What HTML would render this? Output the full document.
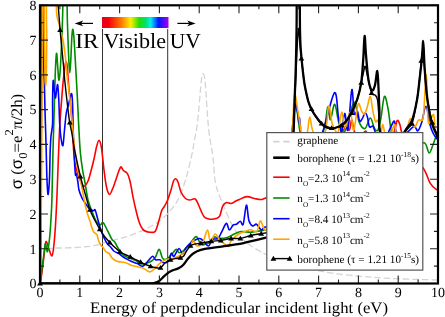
<!DOCTYPE html>
<html><head><meta charset="utf-8"><style>
html,body{margin:0;padding:0;background:#fff;}
body{width:445px;height:317px;overflow:hidden;position:relative;}
svg{position:absolute;left:0;top:0;will-change:transform;}
.t{font-family:"Liberation Serif",serif;fill:#000;text-rendering:geometricPrecision;}
.s{font-family:"Liberation Sans",sans-serif;fill:#000;}
</style></head><body>
<svg width="445" height="317" viewBox="0 0 445 317">
<defs><clipPath id="cp"><rect x="40" y="5.3" width="398" height="278.2"/></clipPath></defs>
<g stroke="#333" stroke-width="1">
<line x1="102.5" y1="29" x2="102.5" y2="283.8"/><line x1="167.7" y1="29" x2="167.7" y2="283.8"/>
</g>
<g clip-path="url(#cp)" fill="none" stroke-linejoin="round" stroke-linecap="round">
<path d="M47.00,250.50 C47.67,250.17 49.50,248.92 51.00,248.50 C52.50,248.08 54.17,248.08 56.00,248.00 C57.83,247.92 59.33,248.05 62.00,248.00 C64.67,247.95 68.50,247.88 72.00,247.70 C75.50,247.52 79.33,247.25 83.00,246.90 C86.67,246.55 89.08,246.68 94.00,245.60 C98.92,244.52 105.67,242.38 112.50,240.40 C119.33,238.42 127.52,236.68 135.00,233.70 C142.48,230.72 151.57,226.28 157.40,222.50 C163.23,218.72 166.33,215.25 170.00,211.00 C173.67,206.75 176.73,202.45 179.40,197.00 C182.07,191.55 184.00,185.00 186.00,178.30 C188.00,171.60 189.98,163.18 191.40,156.80 C192.82,150.42 193.47,145.80 194.50,140.00 C195.53,134.20 196.55,131.00 197.60,122.00 C198.65,113.00 200.07,93.67 200.80,86.00 C201.53,78.33 201.62,78.08 202.00,76.00 C202.38,73.92 202.73,73.50 203.10,73.50 C203.47,73.50 203.80,73.92 204.20,76.00 C204.60,78.08 204.75,77.05 205.50,86.00 C206.25,94.95 207.47,117.90 208.70,129.70 C209.93,141.50 211.75,147.83 212.90,156.80 C214.05,165.77 213.97,175.70 215.60,183.50 C217.23,191.30 219.73,196.30 222.70,203.60 C225.67,210.90 229.65,220.98 233.40,227.30 C237.15,233.62 240.87,237.57 245.20,241.50 C249.53,245.43 255.27,248.57 259.40,250.90 C263.53,253.23 259.90,252.15 270.00,255.50 C280.10,258.85 301.67,267.28 320.00,271.00 C338.33,274.72 360.33,276.30 380.00,277.80 C399.67,279.30 428.33,279.63 438.00,280.00" stroke="#d4d4d4" stroke-width="1.3" stroke-dasharray="5.5 4"/>
<path d="M40.30,283.50 C40.63,281.25 41.62,275.18 42.30,270.00 C42.98,264.82 43.78,257.15 44.40,252.40 C45.02,247.65 45.30,242.23 46.00,241.50 C46.70,240.77 47.62,245.60 48.60,248.00 C49.58,250.40 51.03,256.23 51.90,255.90 C52.77,255.57 53.20,251.15 53.80,246.00 C54.40,240.85 54.97,233.50 55.50,225.00 C56.03,216.50 56.53,205.83 57.00,195.00 C57.47,184.17 57.83,171.67 58.30,160.00 C58.77,148.33 59.18,135.83 59.80,125.00 C60.42,114.17 61.38,102.83 62.00,95.00 C62.62,87.17 63.00,82.83 63.50,78.00 C64.00,73.17 64.58,68.75 65.00,66.00 C65.42,63.25 65.63,61.50 66.00,61.50 C66.37,61.50 66.83,62.92 67.20,66.00 C67.57,69.08 67.80,75.17 68.20,80.00 C68.60,84.83 69.13,90.00 69.60,95.00 C70.07,100.00 70.52,104.17 71.00,110.00 C71.48,115.83 72.07,123.33 72.50,130.00 C72.93,136.67 73.10,144.00 73.60,150.00 C74.10,156.00 74.68,161.67 75.50,166.00 C76.32,170.33 77.50,173.17 78.50,176.00 C79.50,178.83 80.57,181.28 81.50,183.00 C82.43,184.72 83.02,186.63 84.10,186.30 C85.18,185.97 86.85,183.55 88.00,181.00 C89.15,178.45 90.00,174.67 91.00,171.00 C92.00,167.33 93.08,163.00 94.00,159.00 C94.92,155.00 95.67,150.13 96.50,147.00 C97.33,143.87 98.17,140.03 99.00,140.20 C99.83,140.37 100.67,143.03 101.50,148.00 C102.33,152.97 103.17,163.50 104.00,170.00 C104.83,176.50 105.58,182.93 106.50,187.00 C107.42,191.07 108.50,194.07 109.50,194.40 C110.50,194.73 111.57,191.05 112.50,189.00 C113.43,186.95 114.03,185.13 115.10,182.10 C116.17,179.07 117.95,173.32 118.90,170.80 C119.85,168.28 120.25,167.38 120.80,167.00 C121.35,166.62 121.73,167.87 122.20,168.50 C122.67,169.13 122.73,169.95 123.60,170.80 C124.47,171.65 126.30,171.73 127.40,173.60 C128.50,175.47 129.25,178.05 130.20,182.00 C131.15,185.95 132.15,192.63 133.10,197.30 C134.05,201.97 135.00,206.22 135.90,210.00 C136.80,213.78 137.65,217.25 138.50,220.00 C139.35,222.75 140.08,224.75 141.00,226.50 C141.92,228.25 142.57,229.55 144.00,230.50 C145.43,231.45 147.72,232.08 149.60,232.20 C151.48,232.32 153.75,233.13 155.30,231.20 C156.85,229.27 157.83,224.03 158.90,220.60 C159.97,217.17 160.85,212.87 161.70,210.60 C162.55,208.33 163.08,208.60 164.00,207.00 C164.92,205.40 166.03,203.83 167.20,201.00 C168.37,198.17 169.95,193.33 171.00,190.00 C172.05,186.67 172.73,182.87 173.50,181.00 C174.27,179.13 174.85,178.63 175.60,178.80 C176.35,178.97 177.10,179.80 178.00,182.00 C178.90,184.20 179.75,189.25 181.00,192.00 C182.25,194.75 184.00,197.17 185.50,198.50 C187.00,199.83 188.37,199.92 190.00,200.00 C191.63,200.08 193.80,198.00 195.30,199.00 C196.80,200.00 197.88,203.67 199.00,206.00 C200.12,208.33 201.00,211.05 202.00,213.00 C203.00,214.95 203.67,216.67 205.00,217.70 C206.33,218.73 208.17,219.05 210.00,219.20 C211.83,219.35 214.37,219.17 216.00,218.60 C217.63,218.03 218.70,217.85 219.80,215.80 C220.90,213.75 221.50,208.50 222.60,206.30 C223.70,204.10 224.98,203.07 226.40,202.60 C227.82,202.13 229.67,203.68 231.10,203.50 C232.53,203.32 233.62,202.17 235.00,201.50 C236.38,200.83 237.40,200.32 239.40,199.50 C241.40,198.68 244.47,196.77 247.00,196.60 C249.53,196.43 252.23,198.02 254.60,198.50 C256.97,198.98 259.15,199.65 261.20,199.50 C263.25,199.35 260.43,200.02 266.90,197.60 C273.37,195.18 289.48,192.93 300.00,185.00 C310.52,177.07 322.50,159.50 330.00,150.00 C337.50,140.50 341.77,131.33 345.00,128.00 C348.23,124.67 348.27,131.38 349.40,130.00 C350.53,128.62 351.00,119.53 351.80,119.70 C352.60,119.87 352.83,127.95 354.20,131.00 C355.57,134.05 358.08,138.00 360.00,138.00 C361.92,138.00 363.70,130.67 365.70,131.00 C367.70,131.33 367.95,139.17 372.00,140.00 C376.05,140.83 386.27,137.50 390.00,136.00 C393.73,134.50 393.20,133.58 394.40,131.00 C395.60,128.42 396.27,121.50 397.20,120.50 C398.13,119.50 399.20,122.92 400.00,125.00 C400.80,127.08 400.33,128.83 402.00,133.00 C403.67,137.17 406.33,143.93 410.00,150.00 C413.67,156.07 420.62,163.85 424.00,169.40 C427.38,174.95 428.20,179.93 430.30,183.30 C432.40,186.67 434.82,188.48 436.60,189.60 C438.38,190.72 440.27,189.93 441.00,190.00" stroke="#ff0000" stroke-width="1.6"/>
<path d="M40.30,283.50 C40.55,281.20 41.27,274.02 41.80,269.70 C42.33,265.38 42.95,261.80 43.50,257.60 C44.05,253.40 44.63,246.27 45.10,244.50 C45.57,242.73 45.90,245.83 46.30,247.00 C46.70,248.17 46.95,253.00 47.50,251.50 C48.05,250.00 49.05,242.92 49.60,238.00 C50.15,233.08 50.42,228.33 50.80,222.00 C51.18,215.67 51.53,212.00 51.90,200.00 C52.27,188.00 52.62,165.00 53.00,150.00 C53.38,135.00 53.83,122.50 54.20,110.00 C54.57,97.50 54.82,84.45 55.20,75.00 C55.58,65.55 56.07,54.47 56.50,53.30 C56.93,52.13 57.42,63.55 57.80,68.00 C58.18,72.45 58.43,79.17 58.80,80.00 C59.17,80.83 59.58,78.00 60.00,73.00 C60.42,68.00 60.88,58.83 61.30,50.00 C61.72,41.17 62.13,29.67 62.50,20.00 C62.87,10.33 62.83,-3.33 63.50,-8.00 C64.17,-12.67 65.83,-13.50 66.50,-8.00 C67.17,-2.50 67.12,13.67 67.50,25.00 C67.88,36.33 68.42,52.00 68.80,60.00 C69.18,68.00 69.47,73.00 69.80,73.00 C70.13,73.00 70.47,65.83 70.80,60.00 C71.13,54.17 71.48,43.12 71.80,38.00 C72.12,32.88 72.37,29.63 72.70,29.30 C73.03,28.97 73.42,31.72 73.80,36.00 C74.18,40.28 74.57,47.67 75.00,55.00 C75.43,62.33 75.98,72.50 76.40,80.00 C76.82,87.50 77.12,92.50 77.50,100.00 C77.88,107.50 78.23,116.33 78.70,125.00 C79.17,133.67 79.65,144.50 80.30,152.00 C80.95,159.50 81.82,164.90 82.60,170.00 C83.38,175.10 84.10,177.60 85.00,182.60 C85.90,187.60 86.83,195.18 88.00,200.00 C89.17,204.82 90.67,208.00 92.00,211.50 C93.33,215.00 94.67,218.75 96.00,221.00 C97.33,223.25 98.82,224.73 100.00,225.00 C101.18,225.27 101.93,221.83 103.10,222.60 C104.27,223.37 105.55,226.85 107.00,229.60 C108.45,232.35 110.48,237.00 111.80,239.10 C113.12,241.20 113.78,240.60 114.90,242.20 C116.02,243.80 117.12,246.57 118.50,248.70 C119.88,250.83 121.37,253.43 123.20,255.00 C125.03,256.57 127.38,257.18 129.50,258.10 C131.62,259.02 133.92,259.52 135.90,260.50 C137.88,261.48 138.83,263.88 141.40,264.00 C143.97,264.12 148.93,262.37 151.30,261.20 C153.67,260.03 154.30,259.00 155.60,257.00 C156.90,255.00 157.92,248.97 159.10,249.20 C160.28,249.43 161.38,256.77 162.70,258.40 C164.02,260.03 165.47,259.72 167.00,259.00 C168.53,258.28 170.37,255.73 171.90,254.10 C173.43,252.47 175.02,249.43 176.20,249.20 C177.38,248.97 177.87,252.40 179.00,252.70 C180.13,253.00 181.23,252.43 183.00,251.00 C184.77,249.57 187.40,246.50 189.60,244.10 C191.80,241.70 194.32,236.60 196.20,236.60 C198.08,236.60 198.85,243.03 200.90,244.10 C202.95,245.17 206.32,244.18 208.50,243.00 C210.68,241.82 212.30,237.77 214.00,237.00 C215.70,236.23 216.48,238.32 218.70,238.40 C220.92,238.48 224.70,238.23 227.30,237.50 C229.90,236.77 231.98,235.00 234.30,234.00 C236.62,233.00 238.60,231.78 241.20,231.50 C243.80,231.22 247.58,232.30 249.90,232.30 C252.22,232.30 253.08,231.78 255.10,231.50 C257.12,231.22 260.18,230.93 262.00,230.60 C263.82,230.27 263.67,230.27 266.00,229.50 C268.33,228.73 272.67,231.75 276.00,226.00 C279.33,220.25 283.33,210.17 286.00,195.00 C288.67,179.83 290.58,149.17 292.00,135.00 C293.42,120.83 293.83,115.17 294.50,110.00 C295.17,104.83 295.50,103.33 296.00,104.00 C296.50,104.67 297.00,110.50 297.50,114.00 C298.00,117.50 298.42,121.83 299.00,125.00 C299.58,128.17 299.17,130.50 301.00,133.00 C302.83,135.50 306.33,140.17 310.00,140.00 C313.67,139.83 320.03,137.52 323.00,132.00 C325.97,126.48 326.57,108.93 327.80,106.90 C329.03,104.87 329.25,120.23 330.40,119.80 C331.55,119.37 333.27,103.72 334.70,104.30 C336.13,104.88 337.40,118.68 339.00,123.30 C340.60,127.92 342.55,133.43 344.30,132.00 C346.05,130.57 347.77,119.62 349.50,114.70 C351.23,109.78 353.12,101.35 354.70,102.50 C356.28,103.65 357.28,117.27 359.00,121.60 C360.72,125.93 363.12,129.10 365.00,128.50 C366.88,127.90 368.72,118.02 370.30,118.00 C371.88,117.98 373.22,126.40 374.50,128.40 C375.78,130.40 376.93,131.67 378.00,130.00 C379.07,128.33 379.83,124.00 380.90,118.40 C381.97,112.80 383.22,98.05 384.40,96.40 C385.58,94.75 386.93,103.17 388.00,108.50 C389.07,113.83 389.97,124.15 390.80,128.40 C391.63,132.65 389.80,130.40 393.00,134.00 C396.20,137.60 404.83,148.53 410.00,150.00 C415.17,151.47 420.83,142.32 424.00,142.80 C427.17,143.28 427.53,152.48 429.00,152.90 C430.47,153.32 431.53,148.25 432.80,145.30 C434.07,142.35 435.23,138.08 436.60,135.20 C437.97,132.32 440.27,129.20 441.00,128.00" stroke="#008c00" stroke-width="1.6"/>
<path d="M40.20,283.50 C40.30,277.92 40.63,272.25 40.80,250.00 C40.97,227.75 41.07,181.67 41.20,150.00 C41.33,118.33 41.43,86.33 41.60,60.00 C41.77,33.67 41.97,3.33 42.20,-8.00 C42.43,-19.33 42.77,-19.33 43.00,-8.00 C43.23,3.33 43.37,44.50 43.60,60.00 C43.83,75.50 44.17,76.67 44.40,85.00 C44.63,93.33 44.80,102.50 45.00,110.00 C45.20,117.50 45.40,123.33 45.60,130.00 C45.80,136.67 46.00,142.50 46.20,150.00 C46.40,157.50 46.60,168.67 46.80,175.00 C47.00,181.33 47.17,184.80 47.40,188.00 C47.63,191.20 47.85,195.87 48.20,194.20 C48.55,192.53 49.17,185.37 49.50,178.00 C49.83,170.63 49.95,157.00 50.20,150.00 C50.45,143.00 50.60,140.40 51.00,136.00 C51.40,131.60 52.33,129.60 52.60,123.60 C52.87,117.60 52.50,107.18 52.60,100.00 C52.70,92.82 52.88,81.83 53.20,80.50 C53.52,79.17 54.12,89.08 54.50,92.00 C54.88,94.92 55.15,98.33 55.50,98.00 C55.85,97.67 56.23,92.18 56.60,90.00 C56.97,87.82 57.33,83.23 57.70,84.90 C58.07,86.57 58.47,93.55 58.80,100.00 C59.13,106.45 59.33,117.27 59.70,123.60 C60.07,129.93 60.47,134.33 61.00,138.00 C61.53,141.67 62.32,146.93 62.90,145.60 C63.48,144.27 63.93,135.43 64.50,130.00 C65.07,124.57 65.65,117.17 66.30,113.00 C66.95,108.83 67.70,107.83 68.40,105.00 C69.10,102.17 69.93,97.80 70.50,96.00 C71.07,94.20 71.45,92.70 71.80,94.20 C72.15,95.70 72.37,99.03 72.60,105.00 C72.83,110.97 72.97,122.50 73.20,130.00 C73.43,137.50 73.75,144.17 74.00,150.00 C74.25,155.83 74.45,160.83 74.70,165.00 C74.95,169.17 75.23,173.55 75.50,175.00 C75.77,176.45 75.92,172.62 76.30,173.70 C76.68,174.78 77.35,178.78 77.80,181.50 C78.25,184.22 78.30,187.25 79.00,190.00 C79.70,192.75 81.00,195.87 82.00,198.00 C83.00,200.13 83.72,200.93 85.00,202.80 C86.28,204.67 88.25,207.88 89.70,209.20 C91.15,210.52 92.78,210.57 93.70,210.70 C94.62,210.83 94.55,208.68 95.20,210.00 C95.85,211.32 96.68,215.33 97.60,218.60 C98.52,221.87 99.58,226.28 100.70,229.60 C101.82,232.92 103.17,236.12 104.30,238.50 C105.43,240.88 106.45,242.48 107.50,243.90 C108.55,245.32 109.55,245.82 110.60,247.00 C111.65,248.18 112.48,249.93 113.80,251.00 C115.12,252.07 117.18,252.60 118.50,253.40 C119.82,254.20 120.38,254.88 121.70,255.80 C123.02,256.72 124.83,257.98 126.40,258.90 C127.97,259.82 129.27,260.52 131.10,261.30 C132.93,262.08 135.45,262.78 137.40,263.60 C139.35,264.42 140.95,266.72 142.80,266.20 C144.65,265.68 146.85,262.15 148.50,260.50 C150.15,258.85 151.52,256.42 152.70,256.30 C153.88,256.18 154.42,259.22 155.60,259.80 C156.78,260.38 158.50,259.32 159.80,259.80 C161.10,260.28 161.97,262.47 163.40,262.70 C164.83,262.93 167.10,262.75 168.40,261.20 C169.70,259.65 170.27,254.22 171.20,253.40 C172.13,252.58 172.70,257.12 174.00,256.30 C175.30,255.48 177.57,248.87 179.00,248.50 C180.43,248.13 181.47,254.20 182.60,254.10 C183.73,254.00 184.32,249.87 185.80,247.90 C187.28,245.93 189.30,243.87 191.50,242.30 C193.70,240.73 197.12,238.82 199.00,238.50 C200.88,238.18 201.22,239.15 202.80,240.40 C204.38,241.65 206.93,246.17 208.50,246.00 C210.07,245.83 210.63,240.65 212.20,239.40 C213.77,238.15 216.32,239.75 217.90,238.50 C219.48,237.25 220.28,234.42 221.70,231.90 C223.12,229.38 225.13,223.72 226.40,223.40 C227.67,223.08 228.20,229.70 229.30,230.00 C230.40,230.30 231.80,226.17 233.00,225.20 C234.20,224.23 235.28,224.85 236.50,224.20 C237.72,223.55 239.18,221.30 240.30,221.30 C241.42,221.30 242.18,226.88 243.20,224.20 C244.22,221.52 245.45,205.83 246.40,205.20 C247.35,204.57 247.85,216.93 248.90,220.40 C249.95,223.87 251.43,225.37 252.70,226.00 C253.97,226.63 255.08,223.57 256.50,224.20 C257.92,224.83 259.78,229.33 261.20,229.80 C262.62,230.27 262.53,227.80 265.00,227.00 C267.47,226.20 272.50,231.17 276.00,225.00 C279.50,218.83 283.33,205.50 286.00,190.00 C288.67,174.50 290.67,145.00 292.00,132.00 C293.33,119.00 293.42,116.63 294.00,112.00 C294.58,107.37 295.00,104.53 295.50,104.20 C296.00,103.87 296.57,108.27 297.00,110.00 C297.43,111.73 297.80,112.60 298.10,114.60 C298.40,116.60 298.57,121.43 298.80,122.00 C299.03,122.57 299.22,117.00 299.50,118.00 C299.78,119.00 300.17,125.50 300.50,128.00 C300.83,130.50 299.08,131.00 301.50,133.00 C303.92,135.00 311.48,140.17 315.00,140.00 C318.52,139.83 319.37,139.85 322.60,132.00 C325.83,124.15 331.77,95.48 334.40,92.90 C337.03,90.32 337.22,109.98 338.40,116.50 C339.58,123.02 340.45,132.52 341.50,132.00 C342.55,131.48 343.63,113.73 344.70,113.40 C345.77,113.07 346.72,133.95 347.90,130.00 C349.08,126.05 350.75,92.47 351.80,89.70 C352.85,86.93 353.27,109.80 354.20,113.40 C355.13,117.00 356.50,110.00 357.40,111.30 C358.30,112.60 358.77,120.02 359.60,121.20 C360.43,122.38 361.47,119.82 362.40,118.40 C363.33,116.98 364.37,112.93 365.20,112.70 C366.03,112.47 366.68,114.63 367.40,117.00 C368.12,119.37 368.57,125.37 369.50,126.90 C370.43,128.43 371.92,125.18 373.00,126.20 C374.08,127.22 374.00,131.03 376.00,133.00 C378.00,134.97 382.65,138.77 385.00,138.00 C387.35,137.23 388.53,131.20 390.10,128.40 C391.67,125.60 393.33,120.60 394.40,121.20 C395.47,121.80 394.73,129.87 396.50,132.00 C398.27,134.13 402.08,134.92 405.00,134.00 C407.92,133.08 411.87,127.02 414.00,126.50 C416.13,125.98 416.53,131.53 417.80,130.90 C419.07,130.27 420.23,126.80 421.60,122.70 C422.97,118.60 424.63,106.08 426.00,106.30 C427.37,106.52 428.55,119.38 429.80,124.00 C431.05,128.62 432.13,131.33 433.50,134.00 C434.87,136.67 437.25,139.00 438.00,140.00" stroke="#0000ff" stroke-width="1.6"/>
<path d="M40.20,283.50 C40.27,280.42 40.40,279.75 40.60,265.00 C40.80,250.25 41.17,222.50 41.40,195.00 C41.63,167.50 41.83,129.17 42.00,100.00 C42.17,70.83 42.27,38.00 42.40,20.00 C42.53,2.00 42.53,-3.33 42.80,-8.00 C43.07,-12.67 43.72,-16.00 44.00,-8.00 C44.28,0.00 44.33,25.67 44.50,40.00 C44.67,54.33 44.82,70.33 45.00,78.00 C45.18,85.67 45.38,86.00 45.60,86.00 C45.82,86.00 46.12,85.67 46.30,78.00 C46.48,70.33 46.58,54.33 46.70,40.00 C46.82,25.67 45.62,0.00 47.00,-8.00 C48.38,-16.00 53.47,-10.17 55.00,-8.00 C56.53,-5.83 55.87,0.95 56.20,5.00 C56.53,9.05 56.48,12.97 57.00,16.30 C57.52,19.63 58.63,22.22 59.30,25.00 C59.97,27.78 60.38,30.50 61.00,33.00 C61.62,35.50 62.25,35.83 63.00,40.00 C63.75,44.17 64.83,52.00 65.50,58.00 C66.17,64.00 66.42,70.42 67.00,76.00 C67.58,81.58 68.33,85.83 69.00,91.50 C69.67,97.17 70.42,104.42 71.00,110.00 C71.58,115.58 71.95,119.17 72.50,125.00 C73.05,130.83 73.63,138.83 74.30,145.00 C74.97,151.17 75.72,157.00 76.50,162.00 C77.28,167.00 78.18,171.17 79.00,175.00 C79.82,178.83 80.65,181.50 81.40,185.00 C82.15,188.50 82.90,192.77 83.50,196.00 C84.10,199.23 84.50,202.07 85.00,204.40 C85.50,206.73 86.00,208.15 86.50,210.00 C87.00,211.85 87.33,213.40 88.00,215.50 C88.67,217.60 89.92,220.77 90.50,222.60 C91.08,224.43 90.97,224.93 91.50,226.50 C92.03,228.07 92.82,230.68 93.70,232.00 C94.58,233.32 96.02,233.07 96.80,234.40 C97.58,235.73 97.75,238.23 98.40,240.00 C99.05,241.77 99.98,243.83 100.70,245.00 C101.42,246.17 101.83,245.87 102.70,247.00 C103.57,248.13 104.85,250.73 105.90,251.80 C106.95,252.87 107.95,252.35 109.00,253.40 C110.05,254.45 110.88,256.78 112.20,258.10 C113.52,259.42 115.32,260.65 116.90,261.30 C118.48,261.95 120.12,261.73 121.70,262.00 C123.28,262.27 124.83,262.37 126.40,262.90 C127.97,263.43 129.27,264.55 131.10,265.20 C132.93,265.85 135.30,266.27 137.40,266.80 C139.50,267.33 141.62,267.55 143.70,268.40 C145.78,269.25 148.03,271.90 149.90,271.90 C151.77,271.90 153.25,269.82 154.90,268.40 C156.55,266.98 158.03,264.83 159.80,263.40 C161.57,261.97 163.37,260.63 165.50,259.80 C167.63,258.97 170.23,259.10 172.60,258.40 C174.97,257.70 177.47,256.90 179.70,255.60 C181.93,254.30 184.28,252.03 186.00,250.60 C187.72,249.17 188.78,248.70 190.00,247.00 C191.22,245.30 192.12,240.57 193.30,240.40 C194.48,240.23 195.52,245.68 197.10,246.00 C198.68,246.32 201.07,244.97 202.80,242.30 C204.53,239.63 206.23,230.17 207.50,230.00 C208.77,229.83 209.12,240.63 210.40,241.30 C211.68,241.97 213.68,234.22 215.20,234.00 C216.72,233.78 218.05,238.42 219.50,240.00 C220.95,241.58 222.45,242.47 223.90,243.50 C225.35,244.53 226.90,246.78 228.20,246.20 C229.50,245.62 229.97,242.03 231.70,240.00 C233.43,237.97 236.43,235.42 238.60,234.00 C240.77,232.58 242.67,232.22 244.70,231.50 C246.73,230.78 248.78,229.70 250.80,229.70 C252.82,229.70 255.22,232.95 256.80,231.50 C258.38,230.05 259.15,221.58 260.30,221.00 C261.45,220.42 262.58,226.33 263.70,228.00 C264.82,229.67 264.95,230.33 267.00,231.00 C269.05,231.67 273.17,238.83 276.00,232.00 C278.83,225.17 281.33,206.57 284.00,190.00 C286.67,173.43 290.42,146.27 292.00,132.60 C293.58,118.93 293.05,114.47 293.50,108.00 C293.95,101.53 294.22,95.00 294.70,93.80 C295.18,92.60 295.85,97.77 296.40,100.80 C296.95,103.83 297.43,108.30 298.00,112.00 C298.57,115.70 299.20,119.57 299.80,123.00 C300.40,126.43 300.38,131.00 301.60,132.60 C302.82,134.20 305.75,135.20 307.10,132.60 C308.45,130.00 308.60,117.00 309.70,117.00 C310.80,117.00 311.15,130.10 313.70,132.60 C316.25,135.10 322.50,136.43 325.00,132.00 C327.50,127.57 327.52,107.45 328.70,106.00 C329.88,104.55 331.05,119.30 332.10,123.30 C333.15,127.30 333.98,128.55 335.00,130.00 C336.02,131.45 337.08,134.98 338.20,132.00 C339.32,129.02 340.55,112.77 341.70,112.10 C342.85,111.43 343.67,128.02 345.10,128.00 C346.53,127.98 348.85,111.67 350.30,112.00 C351.75,112.33 352.50,131.28 353.80,130.00 C355.10,128.72 356.80,107.43 358.10,104.30 C359.40,101.17 360.58,109.58 361.60,111.20 C362.62,112.82 363.30,114.53 364.20,114.00 C365.10,113.47 365.98,110.92 367.00,108.00 C368.02,105.08 369.32,95.97 370.30,96.50 C371.28,97.03 372.03,107.02 372.90,111.20 C373.77,115.38 374.65,120.05 375.50,121.60 C376.35,123.15 377.10,118.77 378.00,120.50 C378.90,122.23 380.10,131.33 380.90,132.00 C381.70,132.67 382.08,124.17 382.80,124.50 C383.52,124.83 384.00,132.08 385.20,134.00 C386.40,135.92 388.70,137.00 390.00,136.00 C391.30,135.00 392.17,129.87 393.00,128.00 C393.83,126.13 394.37,123.80 395.00,124.80 C395.63,125.80 395.13,132.47 396.80,134.00 C398.47,135.53 402.77,136.52 405.00,134.00 C407.23,131.48 408.60,120.05 410.20,118.90 C411.80,117.75 413.23,126.88 414.60,127.10 C415.97,127.32 417.03,121.57 418.40,120.20 C419.77,118.83 421.78,122.27 422.80,118.90 C423.82,115.53 424.00,106.98 424.50,100.00 C425.00,93.02 425.47,80.83 425.80,77.00 C426.13,73.17 426.25,74.00 426.50,77.00 C426.75,80.00 426.97,87.28 427.30,95.00 C427.63,102.72 427.47,120.05 428.50,123.30 C429.53,126.55 432.35,113.13 433.50,114.50 C434.65,115.87 434.65,128.08 435.40,131.50 C436.15,134.92 437.57,134.42 438.00,135.00" stroke="#ffa500" stroke-width="1.6"/>
<path d="M40.00,283.40 C50.00,283.40 82.00,283.42 100.00,283.40 C118.00,283.38 138.92,283.40 148.00,283.30 C157.08,283.20 152.63,283.18 154.50,282.80 C156.37,282.42 157.62,282.08 159.20,281.00 C160.78,279.92 162.42,277.73 164.00,276.30 C165.58,274.87 167.13,273.45 168.70,272.40 C170.27,271.35 171.82,270.67 173.40,270.00 C174.98,269.33 176.62,269.18 178.20,268.40 C179.78,267.62 181.32,266.87 182.90,265.30 C184.48,263.73 186.12,260.85 187.70,259.00 C189.28,257.15 190.83,255.50 192.40,254.20 C193.97,252.90 195.00,252.08 197.10,251.20 C199.20,250.32 201.22,249.63 205.00,248.90 C208.78,248.17 214.30,247.60 219.80,246.80 C225.30,246.00 233.47,244.87 238.00,244.10 C242.53,243.33 242.18,243.32 247.00,242.20 C251.82,241.08 262.07,238.60 266.90,237.40 C271.73,236.20 272.82,239.57 276.00,235.00 C279.18,230.43 283.50,222.50 286.00,210.00 C288.50,197.50 289.75,172.90 291.00,160.00 C292.25,147.10 292.87,143.43 293.50,132.60 C294.13,121.77 294.43,105.43 294.80,95.00 C295.17,84.57 295.45,78.33 295.70,70.00 C295.95,61.67 296.15,52.50 296.30,45.00 C296.45,37.50 296.53,31.67 296.60,25.00 C296.67,18.33 296.67,10.83 296.70,5.00 C296.73,-0.83 296.32,-7.50 296.80,-10.00 C297.28,-12.50 299.10,-12.50 299.60,-10.00 C300.10,-7.50 299.73,-1.83 299.80,5.00 C299.87,11.83 299.87,24.00 300.00,31.00 C300.13,38.00 300.37,42.67 300.60,47.00 C300.83,51.33 301.12,53.83 301.40,57.00 C301.68,60.17 301.98,63.00 302.30,66.00 C302.62,69.00 302.93,72.00 303.30,75.00 C303.67,78.00 303.97,80.83 304.50,84.00 C305.03,87.17 305.83,91.00 306.50,94.00 C307.17,97.00 307.62,99.33 308.50,102.00 C309.38,104.67 310.13,107.00 311.80,110.00 C313.47,113.00 316.30,117.20 318.50,120.00 C320.70,122.80 322.75,125.40 325.00,126.80 C327.25,128.20 329.77,128.40 332.00,128.40 C334.23,128.40 336.28,127.72 338.40,126.80 C340.52,125.88 342.60,125.13 344.70,122.90 C346.80,120.67 348.90,117.35 351.00,113.40 C353.10,109.45 355.60,104.33 357.30,99.20 C359.00,94.07 360.22,89.13 361.20,82.60 C362.18,76.07 362.63,67.77 363.20,60.00 C363.77,52.23 364.13,36.83 364.60,36.00 C365.07,35.17 365.35,47.67 366.00,55.00 C366.65,62.33 367.50,74.08 368.50,80.00 C369.50,85.92 370.92,89.67 372.00,90.50 C373.08,91.33 374.12,88.25 375.00,85.00 C375.88,81.75 376.72,70.50 377.30,71.00 C377.88,71.50 378.15,81.33 378.50,88.00 C378.85,94.67 379.13,103.62 379.40,111.00 C379.67,118.38 378.00,124.13 380.10,132.30 C382.20,140.47 387.97,160.00 392.00,160.00 C396.03,160.00 400.97,138.88 404.30,132.30 C407.63,125.72 409.88,125.88 412.00,120.50 C414.12,115.12 415.75,106.75 417.00,100.00 C418.25,93.25 418.75,86.33 419.50,80.00 C420.25,73.67 420.98,67.33 421.50,62.00 C422.02,56.67 422.33,51.53 422.60,48.00 C422.87,44.47 422.92,40.80 423.10,40.80 C423.28,40.80 423.50,44.47 423.70,48.00 C423.90,51.53 424.00,56.67 424.30,62.00 C424.60,67.33 424.97,73.67 425.50,80.00 C426.03,86.33 426.47,92.88 427.50,100.00 C428.53,107.12 429.95,116.40 431.70,122.70 C433.45,129.00 436.28,133.25 438.00,137.80 C439.72,142.35 441.33,147.97 442.00,150.00" stroke="#000" stroke-width="2.3"/>
<path d="M40.00,283.40 C40.00,234.83 37.25,40.57 40.00,-8.00 C42.75,-56.57 53.47,-10.28 56.50,-8.00 C59.53,-5.72 57.60,-0.63 58.20,5.70 C58.80,12.03 59.47,22.62 60.10,30.00 C60.73,37.38 61.37,43.33 62.00,50.00 C62.63,56.67 63.45,65.00 63.90,70.00 C64.35,75.00 64.18,74.83 64.70,80.00 C65.22,85.17 66.18,94.00 67.00,101.00 C67.82,108.00 68.80,116.67 69.60,122.00 C70.40,127.33 70.90,128.00 71.80,133.00 C72.70,138.00 73.57,144.75 75.00,152.00 C76.43,159.25 78.65,169.33 80.40,176.50 C82.15,183.67 83.93,189.50 85.50,195.00 C87.07,200.50 88.22,205.25 89.80,209.50 C91.38,213.75 93.33,217.22 95.00,220.50 C96.67,223.78 98.22,226.53 99.80,229.20 C101.38,231.87 102.83,234.30 104.50,236.50 C106.17,238.70 108.05,240.57 109.80,242.40 C111.55,244.23 113.30,245.93 115.00,247.50 C116.70,249.07 118.33,250.63 120.00,251.80 C121.67,252.97 123.28,253.67 125.00,254.50 C126.72,255.33 128.63,256.00 130.30,256.80 C131.97,257.60 133.28,258.43 135.00,259.30 C136.72,260.17 138.85,261.13 140.60,262.00 C142.35,262.87 143.83,263.78 145.50,264.50 C147.17,265.22 149.02,265.80 150.60,266.30 C152.18,266.80 153.35,267.25 155.00,267.50 C156.65,267.75 158.83,268.55 160.50,267.80 C162.17,267.05 163.33,264.33 165.00,263.00 C166.67,261.67 168.83,260.53 170.50,259.80 C172.17,259.07 173.35,258.97 175.00,258.60 C176.65,258.23 178.95,258.03 180.40,257.60 C181.85,257.17 182.68,257.10 183.70,256.00 C184.72,254.90 185.37,252.70 186.50,251.00 C187.63,249.30 189.08,246.97 190.50,245.80 C191.92,244.63 193.27,244.43 195.00,244.00 C196.73,243.57 198.18,243.65 200.90,243.20 C203.62,242.75 207.98,241.77 211.30,241.30 C214.62,240.83 217.50,240.87 220.80,240.40 C224.10,239.93 227.85,238.83 231.10,238.50 C234.35,238.17 237.02,238.90 240.30,238.40 C243.58,237.90 247.32,236.30 250.80,235.50 C254.28,234.70 258.52,234.07 261.20,233.60 C263.88,233.13 264.77,233.13 266.90,232.70 C269.03,232.27 270.82,238.12 274.00,231.00 C277.18,223.88 283.17,205.17 286.00,190.00 C288.83,174.83 289.75,149.57 291.00,140.00 C292.25,130.43 292.83,140.10 293.50,132.60 C294.17,125.10 294.55,105.43 295.00,95.00 C295.45,84.57 295.87,77.50 296.20,70.00 C296.53,62.50 296.73,55.67 297.00,50.00 C297.27,44.33 297.57,39.58 297.80,36.00 C298.03,32.42 298.18,29.00 298.40,28.50 C298.62,28.00 298.83,30.25 299.10,33.00 C299.37,35.75 299.62,40.83 300.00,45.00 C300.38,49.17 301.02,54.50 301.40,58.00 C301.78,61.50 301.98,63.17 302.30,66.00 C302.62,68.83 302.93,72.00 303.30,75.00 C303.67,78.00 303.97,80.83 304.50,84.00 C305.03,87.17 305.83,91.00 306.50,94.00 C307.17,97.00 307.67,99.33 308.50,102.00 C309.33,104.67 309.83,106.92 311.50,110.00 C313.17,113.08 316.82,118.25 318.50,120.50 C320.18,122.75 320.13,122.45 321.60,123.50 C323.07,124.55 325.57,126.05 327.30,126.80 C329.03,127.55 330.15,128.00 332.00,128.00 C333.85,128.00 336.28,127.65 338.40,126.80 C340.52,125.95 342.60,125.07 344.70,122.90 C346.80,120.73 348.90,117.75 351.00,113.80 C353.10,109.85 355.58,104.38 357.30,99.20 C359.02,94.02 360.18,87.57 361.30,82.70 C362.42,77.83 363.33,72.70 364.00,70.00 C364.67,67.30 364.72,65.50 365.30,66.50 C365.88,67.50 366.45,71.58 367.50,76.00 C368.55,80.42 370.35,89.83 371.60,93.00 C372.85,96.17 374.02,93.83 375.00,95.00 C375.98,96.17 376.80,95.83 377.50,100.00 C378.20,104.17 378.70,114.62 379.20,120.00 C379.70,125.38 378.37,124.80 380.50,132.30 C382.63,139.80 388.08,164.72 392.00,165.00 C395.92,165.28 400.67,140.90 404.00,134.00 C407.33,127.10 410.00,128.43 412.00,123.60 C414.00,118.77 414.83,111.43 416.00,105.00 C417.17,98.57 418.12,92.33 419.00,85.00 C419.88,77.67 420.75,66.33 421.30,61.00 C421.85,55.67 421.95,54.33 422.30,53.00 C422.65,51.67 423.07,50.83 423.40,53.00 C423.73,55.17 423.95,61.17 424.30,66.00 C424.65,70.83 424.97,76.33 425.50,82.00 C426.03,87.67 426.38,93.25 427.50,100.00 C428.62,106.75 430.78,117.17 432.20,122.50 C433.62,127.83 434.70,129.42 436.00,132.00 C437.30,134.58 439.33,137.00 440.00,138.00" stroke="#000" stroke-width="1.4"/>
</g>
<path d="M40.00,283.5 v-8 M40.00,5.3 v8 M59.90,283.5 v-4 M59.90,5.3 v4 M79.80,283.5 v-8 M79.80,5.3 v8 M99.70,283.5 v-4 M99.70,5.3 v4 M119.60,283.5 v-8 M119.60,5.3 v8 M139.50,283.5 v-4 M139.50,5.3 v4 M159.40,283.5 v-8 M159.40,5.3 v8 M179.30,283.5 v-4 M179.30,5.3 v4 M199.20,283.5 v-8 M199.20,5.3 v8 M219.10,283.5 v-4 M219.10,5.3 v4 M239.00,283.5 v-8 M239.00,5.3 v8 M258.90,283.5 v-4 M258.90,5.3 v4 M278.80,283.5 v-8 M278.80,5.3 v8 M298.70,283.5 v-4 M298.70,5.3 v4 M318.60,283.5 v-8 M318.60,5.3 v8 M338.50,283.5 v-4 M338.50,5.3 v4 M358.40,283.5 v-8 M358.40,5.3 v8 M378.30,283.5 v-4 M378.30,5.3 v4 M398.20,283.5 v-8 M398.20,5.3 v8 M418.10,283.5 v-4 M418.10,5.3 v4 M438.00,283.5 v-8 M438.00,5.3 v8 M40.0,283.50 h8 M438.0,283.50 h-8 M40.0,266.11 h4 M438.0,266.11 h-4 M40.0,248.72 h8 M438.0,248.72 h-8 M40.0,231.34 h4 M438.0,231.34 h-4 M40.0,213.95 h8 M438.0,213.95 h-8 M40.0,196.56 h4 M438.0,196.56 h-4 M40.0,179.18 h8 M438.0,179.18 h-8 M40.0,161.79 h4 M438.0,161.79 h-4 M40.0,144.40 h8 M438.0,144.40 h-8 M40.0,127.01 h4 M438.0,127.01 h-4 M40.0,109.62 h8 M438.0,109.62 h-8 M40.0,92.24 h4 M438.0,92.24 h-4 M40.0,74.85 h8 M438.0,74.85 h-8 M40.0,57.46 h4 M438.0,57.46 h-4 M40.0,40.08 h8 M438.0,40.08 h-8 M40.0,22.69 h4 M438.0,22.69 h-4 M40.0,5.30 h8 M438.0,5.30 h-8" stroke="#222" stroke-width="1.1" fill="none"/>
<rect x="40.0" y="5.3" width="398.0" height="278.2" fill="none" stroke="#000" stroke-width="2.2"/>
<path d="M40.00,280.64 L42.90,285.43 L37.10,285.43 Z M60.10,27.25 L63.00,32.03 L57.20,32.03 Z M69.80,119.75 L72.70,124.53 L66.90,124.53 Z M80.40,173.75 L83.30,178.53 L77.50,178.53 Z M90.00,207.05 L92.90,211.83 L87.10,211.83 Z M99.80,226.44 L102.70,231.23 L96.90,231.23 Z M109.80,239.65 L112.70,244.43 L106.90,244.43 Z M120.00,249.05 L122.90,253.83 L117.10,253.83 Z M130.30,254.05 L133.20,258.83 L127.40,258.83 Z M140.60,259.25 L143.50,264.03 L137.70,264.03 Z M150.60,263.55 L153.50,268.33 L147.70,268.33 Z M160.50,265.05 L163.40,269.83 L157.60,269.83 Z M170.50,257.05 L173.40,261.83 L167.60,261.83 Z M180.40,254.85 L183.30,259.63 L177.50,259.63 Z M190.50,243.05 L193.40,247.83 L187.60,247.83 Z M200.90,240.44 L203.80,245.23 L198.00,245.23 Z M211.30,238.55 L214.20,243.33 L208.40,243.33 Z M220.80,237.65 L223.70,242.43 L217.90,242.43 Z M231.10,235.75 L234.00,240.53 L228.20,240.53 Z M240.30,235.65 L243.20,240.43 L237.40,240.43 Z M250.80,232.75 L253.70,237.53 L247.90,237.53 Z M261.20,230.84 L264.10,235.63 L258.30,235.63 Z M301.40,55.74 L304.30,60.53 L298.50,60.53 Z M311.50,106.25 L314.40,111.03 L308.60,111.03 Z M321.60,120.75 L324.50,125.53 L318.70,125.53 Z M331.60,125.25 L334.50,130.03 L328.70,130.03 Z M341.70,122.75 L344.60,127.53 L338.80,127.53 Z M351.70,110.25 L354.60,115.03 L348.80,115.03 Z M361.30,79.95 L364.20,84.73 L358.40,84.73 Z M371.60,90.25 L374.50,95.03 L368.70,95.03 Z M412.00,120.84 L414.90,125.63 L409.10,125.63 Z M421.30,57.95 L424.20,62.73 L418.40,62.73 Z M432.20,119.75 L435.10,124.53 L429.30,124.53 Z" fill="#000" stroke="none"/>
<rect x="266.8" y="132.6" width="156" height="137.5" fill="#fff" stroke="#555" stroke-width="1.2"/>
<line x1="273.2" y1="141.6" x2="289.6" y2="141.6" stroke="#d2d2d2" stroke-width="1.6" stroke-dasharray="6.3 3.8"/>
<line x1="273.2" y1="157.7" x2="289.6" y2="157.7" stroke="#000" stroke-width="2.6"/>
<line x1="273.2" y1="177.2" x2="289.6" y2="177.2" stroke="#ff0000" stroke-width="1.6"/>
<line x1="273.2" y1="198" x2="289.6" y2="198" stroke="#008c00" stroke-width="1.6"/>
<line x1="273.2" y1="218.7" x2="289.6" y2="218.7" stroke="#0000ff" stroke-width="1.6"/>
<line x1="273.2" y1="239.2" x2="289.6" y2="239.2" stroke="#ffa500" stroke-width="1.6"/>
<line x1="273.2" y1="258.6" x2="289.6" y2="258.6" stroke="#000" stroke-width="1.4"/>
<path d="M273.40,255.85 L276.30,260.63 L270.50,260.63 Z M289.70,255.85 L292.60,260.63 L286.80,260.63 Z" fill="#000"/>
<defs><linearGradient id="rb" x1="0" x2="1" y1="0" y2="0"><stop offset="0" stop-color="#e0001a"/><stop offset="0.1" stop-color="#fa0008"/><stop offset="0.3" stop-color="#ff8000"/><stop offset="0.43" stop-color="#ffee00"/><stop offset="0.56" stop-color="#20e000"/><stop offset="0.66" stop-color="#00e070"/><stop offset="0.73" stop-color="#00f0f0"/><stop offset="0.85" stop-color="#0018ff"/><stop offset="1" stop-color="#a800f0"/></linearGradient></defs>
<rect x="102" y="17" width="66.5" height="11" fill="url(#rb)"/>
<path d="M93,23.4 H80" stroke="#000" stroke-width="1.2"/><path d="M74.7,23.4 L83.2,20.5 L81,23.4 L83.2,26.3 Z" fill="#000"/>
<path d="M177.4,23.4 H190" stroke="#000" stroke-width="1.2"/><path d="M195.6,23.4 L187.3,20.5 L189.4,23.4 L187.3,26.3 Z" fill="#000"/>
<text class="t" x="36.5" y="288.30" font-size="14" text-anchor="end">0</text>
<text class="t" x="36.5" y="253.53" font-size="14" text-anchor="end">1</text>
<text class="t" x="36.5" y="218.75" font-size="14" text-anchor="end">2</text>
<text class="t" x="36.5" y="183.98" font-size="14" text-anchor="end">3</text>
<text class="t" x="36.5" y="149.20" font-size="14" text-anchor="end">4</text>
<text class="t" x="36.5" y="114.42" font-size="14" text-anchor="end">5</text>
<text class="t" x="36.5" y="79.65" font-size="14" text-anchor="end">6</text>
<text class="t" x="36.5" y="44.88" font-size="14" text-anchor="end">7</text>
<text class="t" x="36.5" y="10.10" font-size="14" text-anchor="end">8</text>
<text class="t" x="40.00" y="297.4" font-size="14" text-anchor="middle">0</text>
<text class="t" x="79.80" y="297.4" font-size="14" text-anchor="middle">1</text>
<text class="t" x="119.60" y="297.4" font-size="14" text-anchor="middle">2</text>
<text class="t" x="159.40" y="297.4" font-size="14" text-anchor="middle">3</text>
<text class="t" x="199.20" y="297.4" font-size="14" text-anchor="middle">4</text>
<text class="t" x="239.00" y="297.4" font-size="14" text-anchor="middle">5</text>
<text class="t" x="278.80" y="297.4" font-size="14" text-anchor="middle">6</text>
<text class="t" x="318.60" y="297.4" font-size="14" text-anchor="middle">7</text>
<text class="t" x="358.40" y="297.4" font-size="14" text-anchor="middle">8</text>
<text class="t" x="398.20" y="297.4" font-size="14" text-anchor="middle">9</text>
<text class="t" x="438.00" y="297.4" font-size="14" text-anchor="middle">10</text>
<text class="t" x="90" y="312.5" font-size="16" textLength="298" lengthAdjust="spacingAndGlyphs">Energy of perpdendicular incident light (eV)</text>
<g transform="translate(21.6,189.3) rotate(-90)"><text class="t" x="0" y="0" font-size="16" textLength="95.5" lengthAdjust="spacingAndGlyphs"><tspan class="s">σ</tspan> (<tspan class="s">σ</tspan><tspan font-size="12" dy="5">0</tspan><tspan dy="-5">=e</tspan><tspan font-size="12" dy="-8.5">2</tspan><tspan dy="8.5">π</tspan>/2h)</text></g>
<text class="t" x="75.3" y="47.9" font-size="21.5" textLength="23.5" lengthAdjust="spacingAndGlyphs">IR</text>
<text class="t" x="103.5" y="47.9" font-size="21.5" textLength="62.5" lengthAdjust="spacingAndGlyphs">Visible</text>
<text class="t" x="169.8" y="47.9" font-size="21.5" textLength="31" lengthAdjust="spacingAndGlyphs">UV</text>
<text class="t" x="297.3" y="144.3" font-size="11.2">graphene</text>
<text class="t" x="297.3" y="162.4" font-size="11.2">borophene (τ = 1.21 10<tspan font-size="7.5" dy="-5.5">-18</tspan><tspan dy="5.5">s)</tspan></text>
<text class="t" x="297.3" y="181.5" font-size="11.2">n<tspan font-size="7.2" dy="4.2">O</tspan><tspan dy="-4.2">=2.3 10</tspan><tspan font-size="7.5" dy="-5.5">14</tspan><tspan dy="5.5">cm</tspan><tspan font-size="7.5" dy="-5.5">-2</tspan></text>
<text class="t" x="297.3" y="202.3" font-size="11.2">n<tspan font-size="7.2" dy="4.2">O</tspan><tspan dy="-4.2">=1.3 10</tspan><tspan font-size="7.5" dy="-5.5">14</tspan><tspan dy="5.5">cm</tspan><tspan font-size="7.5" dy="-5.5">-2</tspan></text>
<text class="t" x="297.3" y="223" font-size="11.2">n<tspan font-size="7.2" dy="4.2">O</tspan><tspan dy="-4.2">=8.4 10</tspan><tspan font-size="7.5" dy="-5.5">13</tspan><tspan dy="5.5">cm</tspan><tspan font-size="7.5" dy="-5.5">-2</tspan></text>
<text class="t" x="297.3" y="243.5" font-size="11.2">n<tspan font-size="7.2" dy="4.2">O</tspan><tspan dy="-4.2">=5.8 10</tspan><tspan font-size="7.5" dy="-5.5">13</tspan><tspan dy="5.5">cm</tspan><tspan font-size="7.5" dy="-5.5">-2</tspan></text>
<text class="t" x="297.3" y="263.2" font-size="11.2">borophene (τ = 1.21 10<tspan font-size="7.5" dy="-5.5">-15</tspan><tspan dy="5.5">s)</tspan></text>
</svg>
</body></html>
